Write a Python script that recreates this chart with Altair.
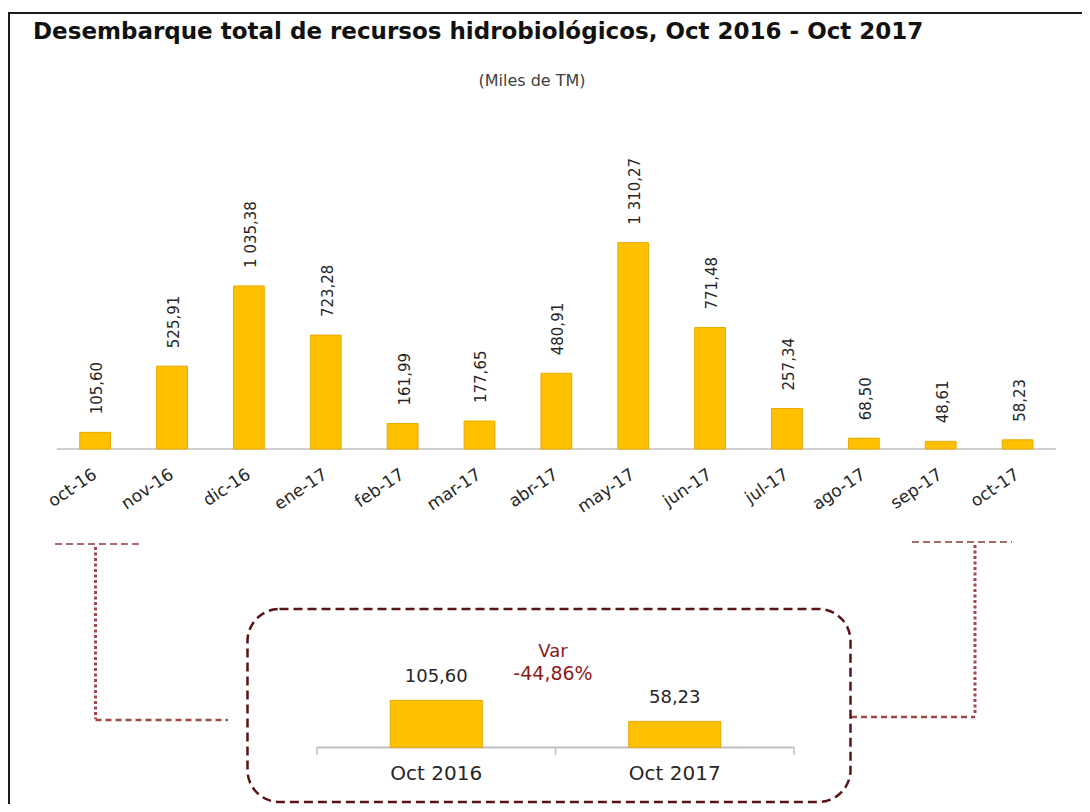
import altair as alt
import pandas as pd

# ---------------- data ----------------
months = ["oct-16", "nov-16", "dic-16", "ene-17", "feb-17", "mar-17", "abr-17",
          "may-17", "jun-17", "jul-17", "ago-17", "sep-17", "oct-17"]
values = [105.60, 525.91, 1035.38, 723.28, 161.99, 177.65, 480.91,
          1310.27, 771.48, 257.34, 68.50, 48.61, 58.23]
periods = ["Oct 2016", "Oct 2017"]
period_values = [105.60, 58.23]
title_text = "Desembarque total de recursos hidrobiológicos, Oct 2016 - Oct 2017"
subtitle_text = "(Miles de TM)"
var_title = "Var"


def fmt(v):
    s = f"{v:,.2f}"
    return s.replace(",", " ").replace(".", ",")


top = pd.DataFrame({"mes": months, "valor": values, "etiqueta": [fmt(v) for v in values]})
mini = pd.DataFrame({"periodo": periods, "valor": period_values,
                     "etiqueta": [fmt(v) for v in period_values]})
var_pct = (period_values[1] / period_values[0] - 1) * 100
var_text = f"{var_pct:.2f}".replace(".", ",") + "%"
one = pd.DataFrame({"k": [0]})

FONT = "DejaVu Sans"
BAR = "#FFC000"
BAR_EDGE = "#E5AA00"
TXT = "#262626"
DARKRED = "#8B1A1A"

# ---------------- top chart ----------------
x_top = alt.Scale(domain=months, range=[48.7, 1048], paddingInner=0.6, paddingOuter=0.3)
y_top = alt.Scale(domain=[0, 1400], range=[441, 220.5], nice=False)
X = alt.X("mes:N", sort=None, scale=x_top, axis=None)
Y = alt.Y("valor:Q", scale=y_top, axis=None)

bars = alt.Chart(top).mark_bar(color=BAR, stroke=BAR_EDGE, strokeWidth=1).encode(x=X, y=Y)
vlabels = alt.Chart(top).mark_text(
    angle=270, align="left", baseline="middle", dx=18, dy=2,
    font=FONT, fontSize=15, color=TXT
).encode(x=X, y=Y, text="etiqueta:N")
xlabels = alt.Chart(top).mark_text(
    angle=326, align="right", baseline="middle", font=FONT, fontSize=17, color=TXT
).encode(x=X, y=alt.value(465), text="mes:N")
top_layer = alt.layer(bars, vlabels, xlabels)

# ---------------- mini chart ----------------
x_mini = alt.Scale(domain=periods, range=[309, 786], paddingInner=0.614, paddingOuter=0.307)
y_mini = alt.Scale(domain=[0, 120], range=[739.3, 685.9], nice=False)
XM = alt.X("periodo:N", sort=None, scale=x_mini, axis=None)
YM = alt.Y("valor:Q", scale=y_mini, axis=None)

mbars = alt.Chart(mini).mark_bar(color=BAR, stroke=BAR_EDGE, strokeWidth=1).encode(x=XM, y=YM)
mlabels = alt.Chart(mini).mark_text(
    align="center", baseline="alphabetic", dy=-18, font=FONT, fontSize=18, color=TXT
).encode(x=XM, y=YM, text="etiqueta:N")
mcats = alt.Chart(mini).mark_text(
    align="center", baseline="alphabetic", font=FONT, fontSize=20, color=TXT
).encode(x=XM, y=alt.value(772), text="periodo:N")
mini_layer = alt.layer(mbars, mlabels, mcats)


# ---------------- decorations ----------------
def seg(x1, y1, x2, y2, color, width, dash=None):
    kw = dict(color=color, strokeWidth=width)
    if dash:
        kw["strokeDash"] = dash
    return alt.Chart(one).mark_rule(**kw).encode(
        x=alt.value(x1), x2=alt.value(x2), y=alt.value(y1), y2=alt.value(y2))


def txt(s, x, y, size, color, weight="normal", align="center"):
    return alt.Chart(one).mark_text(
        text=s, align=align, baseline="alphabetic", font=FONT, fontSize=size,
        fontWeight=weight, color=color
    ).encode(x=alt.value(x), y=alt.value(y))


DASHC = "#8B3A3A"
DOTC = "#A04848"
deco = [
    # frame
    seg(0, 5, 1074, 5, "#1a1a1a", 2),
    seg(1, 5, 1, 796, "#1a1a1a", 2),
    # axes
    seg(48.7, 441, 1048, 441, "#BFBFBF", 1.5),
    seg(309, 739.5, 786, 739.5, "#BFBFBF", 2),
    seg(309, 739, 309, 747, "#BFBFBF", 1.5),
    seg(547.5, 739, 547.5, 747, "#BFBFBF", 1.5),
    seg(786, 739, 786, 747, "#BFBFBF", 1.5),
    # left connector
    seg(47, 536, 135, 536, DASHC, 1.5, [7, 4]),
    seg(87.5, 539, 87.5, 711, DOTC, 3, [3, 2.5]),
    seg(87.5, 712, 220, 712, DOTC, 2.5, [6, 4]),
    # right connector
    seg(904, 534, 1004, 534, DASHC, 1.5, [7, 4]),
    seg(967, 537, 967, 707, DOTC, 3, [3, 2.5]),
    seg(843, 709, 967, 709, DOTC, 2.5, [6, 4]),
    # rounded dashed box
    alt.Chart(one).mark_rect(
        fill="white", fillOpacity=0, stroke="#5B1414", strokeWidth=2.5,
        strokeDash=[9, 5], cornerRadius=32
    ).encode(x=alt.value(239.5), x2=alt.value(842.5), y=alt.value(601), y2=alt.value(794)),
    # texts
    txt(title_text, 25, 31, 23, "#111111", weight="bold", align="left"),
    txt(subtitle_text, 524, 78, 16, "#404040"),
    txt(var_title, 545, 649, 18, DARKRED),
    txt(var_text, 545, 672, 19, DARKRED),
]
deco_layer = alt.layer(*deco)

chart = alt.layer(deco_layer, top_layer, mini_layer).resolve_scale(
    x="independent", y="independent"
).properties(
    width=1074, height=796,
    autosize=alt.AutoSizeParams(type="none"),
    padding=0,
    background="white",
).configure_view(stroke="transparent")

chart.save("out.html", embed_options={"renderer": "svg", "actions": False})
